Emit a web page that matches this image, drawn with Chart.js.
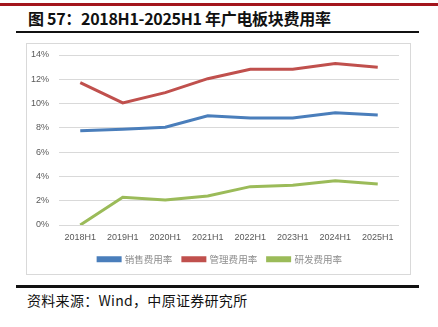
<!DOCTYPE html>
<html lang="zh-CN">
<head>
<meta charset="utf-8">
<title>广电板块费用率</title>
<script src="https://cdn.jsdelivr.net/npm/chart.js@4.4.1/dist/chart.umd.min.js"></script>
<style>
  html, body { margin: 0; padding: 0; background: #fff; }
  body { width: 438px; height: 327px; position: relative; overflow: hidden; font-family: "Noto Sans CJK SC", "Liberation Sans", sans-serif; }
  .topbar { position: absolute; left: 0; top: 3px; width: 438px; height: 3px; background: #a3151c; }
  .title { position: absolute; left: 28px; top: 7px; font-size: 16px; font-weight: bold; color: #111; white-space: nowrap; line-height: 22px; letter-spacing: -0.3px; }
  .rule { position: absolute; left: 16px; width: 403px; background: #111; }
  .rule.r1 { top: 31px; height: 2px; }
  .rule.r2 { top: 285px; height: 3px; }
  .box { position: absolute; left: 26px; top: 43px; width: 383px; height: 230px; border: 1px solid #d9d9d9; }
  .box canvas { display: block; }
  .source { position: absolute; left: 27px; top: 290px; font-size: 14px; color: #111; white-space: nowrap; line-height: 20px; letter-spacing: 0.3px; }
</style>
</head>
<body>
<div class="topbar"></div>
<div class="title">图 57：2018H1-2025H1 年广电板块费用率</div>
<div class="rule r1"></div>
<div class="box"><canvas id="graficoFees" width="383" height="230"></canvas></div>
<div class="rule r2"></div>
<div class="source">资料来源：Wind，中原证券研究所</div>

<script>
// 年份（半年度）
const periodos = ['2018H1', '2019H1', '2020H1', '2021H1', '2022H1', '2023H1', '2024H1', '2025H1'];

// 费用率（%）
const ventas = [7.77, 7.88, 8.05, 9.00, 8.81, 8.81, 9.25, 9.06];           // 销售费用率
const gestion = [11.72, 10.05, 10.90, 12.05, 12.82, 12.82, 13.30, 13.00];  // 管理费用率
const investigacion = [0.00, 2.28, 2.06, 2.39, 3.16, 3.27, 3.65, 3.38];    // 研发费用率

// 纵轴刻度
const ejeY = [0, 2, 4, 6, 8, 10, 12, 14];

// 图例整体稍微右移
const moverLeyenda = {
    id: 'moverLeyenda',
    afterLayout(chart) { chart.legend.left += 7; chart.legend.right += 7; }
};

const ctx = document.getElementById('graficoFees').getContext('2d');
new Chart(ctx, {
    type: 'line',
    data: {
        labels: periodos,
        datasets: [
            { label: '销售费用率', data: ventas, borderColor: '#4a7ebb', backgroundColor: '#4a7ebb' },
            { label: '管理费用率', data: gestion, borderColor: '#c0504d', backgroundColor: '#c0504d' },
            { label: '研发费用率', data: investigacion, borderColor: '#9bbb59', backgroundColor: '#9bbb59' }
        ]
    },
    plugins: [moverLeyenda],
    options: {
        responsive: false,
        animation: false,
        elements: {
            line: { borderWidth: 3, tension: 0 },
            point: { radius: 0 }
        },
        layout: { padding: { top: 11, right: 11, bottom: 0, left: 0 } },
        plugins: {
            tooltip: { enabled: false },
            legend: {
                position: 'bottom',
                labels: {
                    boxWidth: 22,
                    boxHeight: 3,
                    padding: 10.5,
                    color: '#8c8c8c',
                    font: { family: '"Noto Sans CJK SC"', size: 9.5 }
                }
            }
        },
        scales: {
            x: {
                offset: true,
                grid: { display: false, drawTicks: false },
                border: { display: false },
                ticks: {
                    color: '#595959',
                    padding: 7.5,
                    maxRotation: 0,
                    autoSkip: false,
                    font: { family: '"Liberation Sans"', size: 9 }
                },
                afterFit: (eje) => { eje.height = 19; }
            },
            y: {
                min: 0,
                max: 14,
                afterBuildTicks: (eje) => { eje.ticks = ejeY.map(v => ({ value: v })); },
                grid: { color: '#d9d9d9', lineWidth: 1, drawTicks: false },
                border: { display: false },
                ticks: {
                    color: '#595959',
                    padding: 10,
                    font: { family: '"Liberation Sans"', size: 9 },
                    callback: (v) => v + '%'
                },
                afterFit: (eje) => { eje.width = 32; eje.paddingTop = 0; eje.paddingBottom = 0; }
            }
        }
    }
});
</script>
</body>
</html>
